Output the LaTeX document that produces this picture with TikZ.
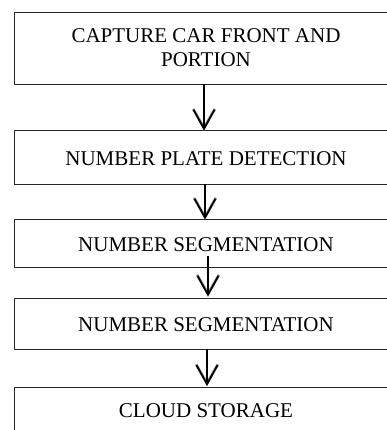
\documentclass[tikz,border=0pt]{standalone}
\usepackage{fontspec}
\setmainfont{Liberation Serif}
\usetikzlibrary{arrows.meta}
\begin{document}
\begin{tikzpicture}[x=1pt,y=-1pt,
  stepbox/.style={draw=black!85, line width=0.9pt, rectangle, minimum width=384pt,
    inner sep=0pt, font=\fontsize{21}{24}\selectfont, align=center},
  flow/.style={line width=1.8pt, -{Straight Barb[length=19pt,width=21pt]},
    preaction={draw=black!35, line width=2.8pt, -{Straight Barb[length=19pt,width=22pt]}}}]
\clip (0,0) rectangle (387,430);
\fill[white] (0,0) rectangle (387,430);
\node[stepbox, minimum height=72pt] (b1) at (206,48) {CAPTURE CAR FRONT AND\\PORTION};
\node[stepbox, minimum height=54pt, text height=17pt, text depth=0pt] (b2) at (206,157) {NUMBER PLATE DETECTION};
\node[stepbox, minimum height=48pt, text height=17pt, text depth=0pt] (b3) at (206,243) {NUMBER SEGMENTATION};
\node[stepbox, minimum height=51pt, text height=16pt, text depth=0pt] (b4) at (206,323.5) {NUMBER SEGMENTATION};
\node[stepbox, minimum height=50pt, anchor=north, text height=14pt, text depth=0pt] (b5) at (206,387) {};
\node[font=\fontsize{21}{24}\selectfont, inner sep=0pt, text height=14pt, text depth=0pt] (t5) at (206,410.5) {CLOUD STORAGE};
\draw[flow] ([xshift=-2pt]b1.south) -- ([xshift=-2pt,yshift=-1pt]b2.north);
\draw[flow] ([xshift=-1pt]b2.south) -- ([xshift=-1pt,yshift=-1pt]b3.north);
\draw[flow] ([xshift=2pt,yshift=11pt]b3.south) -- ([xshift=2pt,yshift=1pt]b4.north);
\draw[flow] ([xshift=1pt]b4.south) -- ([xshift=1pt,yshift=1pt]b5.north);
\end{tikzpicture}
\end{document}
